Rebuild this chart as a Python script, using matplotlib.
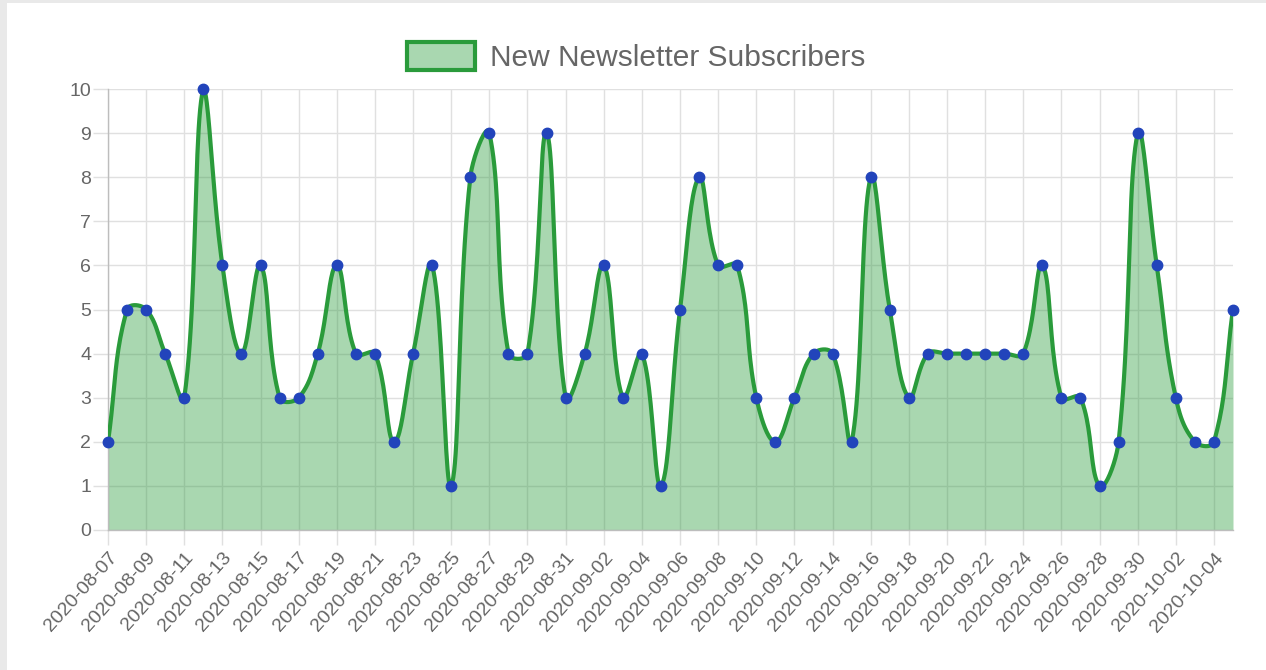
import numpy as np
import matplotlib
matplotlib.use("Agg")
import matplotlib.pyplot as plt
from matplotlib.patches import Rectangle, Patch

plt.rcParams["font.family"] = ["Liberation Sans", "DejaVu Sans"]

# daily new subscribers, 2020-08-07 .. 2020-10-05
start_date = "2020-08-07"
n_days = 60
subscribers = [2, 5, 5, 4, 3, 10, 6, 4, 6, 3, 3, 4, 6, 4, 4, 2, 4, 6, 1, 8,
               9, 4, 4, 9, 3, 4, 6, 3, 4, 1, 5, 8, 6, 6, 3, 2, 3, 4, 4, 2,
               8, 5, 3, 4, 4, 4, 4, 4, 4, 6, 3, 3, 1, 2, 9, 6, 3, 2, 2, 5]
dates = np.arange(np.datetime64(start_date), np.datetime64(start_date) + n_days).astype(str)
series_label = "New Newsletter Subscribers"

LINE = "#2a9b3b"
POINT = "#2244bb"
GRID = "#e0e0e0"
TEXT = "#666666"
TENSION = 0.4


def bezier_curve(ax, x, y, t=TENSION, steps=24):
    """Chart.js-style cubic bezier (splineCurve) computed in display pixels."""
    trans = ax.transData
    P = trans.transform(np.column_stack([x, y]))
    n = len(P)
    cprev = np.zeros_like(P)
    cnext = np.zeros_like(P)
    for i in range(n):
        prv = P[max(i - 1, 0)]
        cur = P[i]
        nxt = P[min(i + 1, n - 1)]
        d01 = np.hypot(*(cur - prv))
        d12 = np.hypot(*(nxt - cur))
        tot = d01 + d12
        s01 = d01 / tot if tot else 0.0
        s12 = d12 / tot if tot else 0.0
        cprev[i] = cur - t * s01 * (nxt - prv)
        cnext[i] = cur + t * s12 * (nxt - prv)
    # cap control points to the chart area
    lo, hi = trans.transform([(0, 0), (0, 10)])[:, 1]
    cprev[:, 1] = np.clip(cprev[:, 1], lo, hi)
    cnext[:, 1] = np.clip(cnext[:, 1], lo, hi)
    s = np.linspace(0, 1, steps)[:, None]
    pts = []
    for i in range(n - 1):
        p0, p1, p2, p3 = P[i], cnext[i], cprev[i + 1], P[i + 1]
        seg = ((1 - s) ** 3) * p0 + 3 * ((1 - s) ** 2) * s * p1 + 3 * (1 - s) * s ** 2 * p2 + s ** 3 * p3
        pts.append(seg if i == 0 else seg[1:])
    pts = np.vstack(pts)
    d = trans.inverted().transform(pts)
    return d[:, 0], d[:, 1]


W, H = 1266, 670
fig = plt.figure(figsize=(W / 100, H / 100), dpi=100)
fig.patch.set_facecolor("#e9e9e9")
fig.patches.append(Rectangle((7 / W, 0), 1 - 7 / W, 1 - 3 / H, transform=fig.transFigure,
                             facecolor="white", edgecolor="none", zorder=-10))

ax = fig.add_axes([108 / W, 140 / H, (1233 - 108) / W, (530 - 89) / H])
ax.set_facecolor("none")
x = np.arange(n_days)
ax.set_xlim(0, n_days - 1)
ax.set_ylim(0, 10)

cx, cy = bezier_curve(ax, x, subscribers)
ax.fill_between(cx, 0, cy, color=LINE, alpha=0.4, linewidth=0, zorder=2)
ax.plot(cx, cy, color=LINE, linewidth=3.0, solid_capstyle="round", zorder=3)
ax.plot(x, subscribers, linestyle="none", marker="o", markersize=7.5,
        markerfacecolor=POINT, markeredgecolor=POINT, zorder=4, clip_on=False)

ax.set_yticks(range(0, 11))
ax.set_xticks(x[::2])
ax.set_xticklabels(dates[::2], rotation=48, ha="right", va="top",
                   rotation_mode="anchor", fontsize=14, color=TEXT)
ax.tick_params(axis="y", labelsize=14, labelcolor=TEXT, length=11, width=1,
               color=GRID, pad=1)
ax.tick_params(axis="x", length=11, width=1, color=GRID, pad=3)
ax.grid(True, color=GRID, linewidth=1, zorder=0)
ax.set_axisbelow(True)
for side in ("top", "right"):
    ax.spines[side].set_visible(False)
for side in ("left", "bottom"):
    ax.spines[side].set_color("#bdbdbd")
    ax.spines[side].set_linewidth(1)

handle = Patch(facecolor=(0.165, 0.608, 0.231, 0.4), edgecolor=LINE, linewidth=3)
fig.legend([handle], [series_label], loc="center", bbox_to_anchor=(636 / W, 1 - 57 / H),
           frameon=False, fontsize=21.5, labelcolor=TEXT, handlelength=2.3,
           handleheight=1.05, handletextpad=0.5)

fig.savefig("out.png", dpi=100)
